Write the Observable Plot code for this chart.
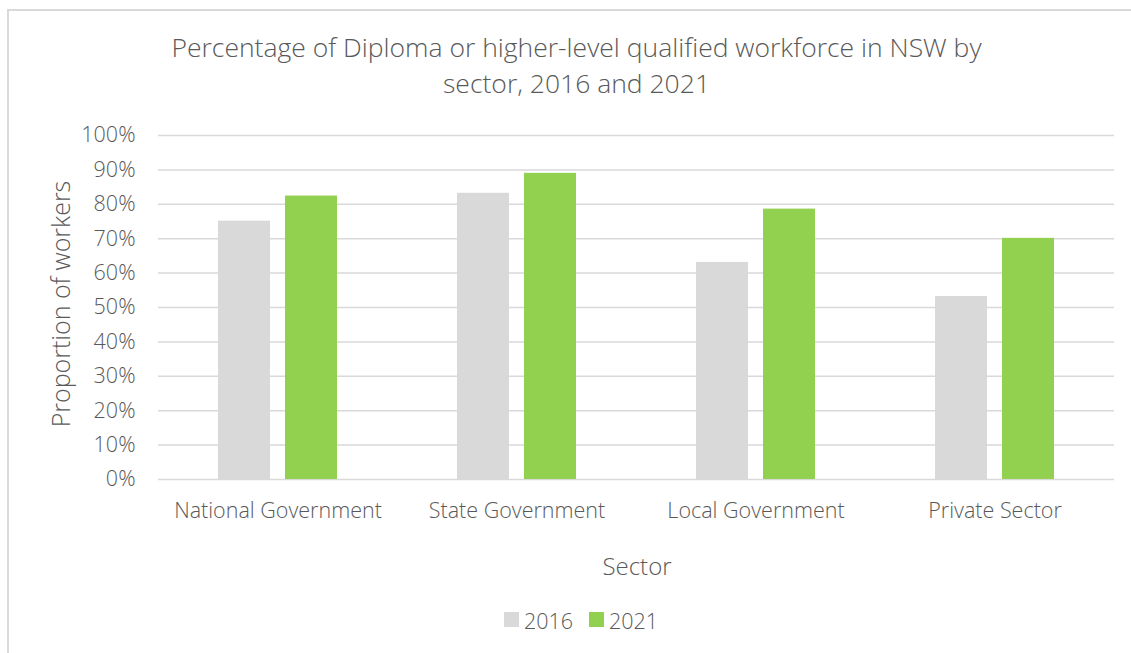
<!DOCTYPE html>
<html>
<head>
<meta charset="utf-8">
<script src="https://cdn.jsdelivr.net/npm/d3@7"></script>
<script src="https://cdn.jsdelivr.net/npm/@observablehq/plot@0.6"></script>
<style>
  html, body { margin: 0; padding: 0; background: #fff; }
  #wrap { position: relative; width: 1131px; height: 653px; overflow: hidden; font-family: "Open Sans", sans-serif; font-weight: 300; color: #595959; }
  #frame { position: absolute; left: 7px; top: 9px; width: 1200px; height: 700px; border: 2px solid #d9d9d9; box-sizing: border-box; }
  #title { position: absolute; left: 0; top: 29px; width: 1153px; text-align: center; font-size: 26.5px; line-height: 36px; }
  #ylabel { position: absolute; left: 60px; top: 304px; transform: translate(-50%, -50%) rotate(-90deg); font-size: 25px; white-space: nowrap; }
  #xlabel { position: absolute; left: 637px; top: 565px; transform: translate(-50%, -50%); font-size: 24px; white-space: nowrap; }
  .sw { position: absolute; width: 15px; height: 15px; top: 612px; }
  .lt { position: absolute; top: 620px; transform: translateY(-50%); font-size: 21.5px; white-space: nowrap; }
  #chart { position: absolute; left: 0; top: 0; }
</style>
</head>
<body>
<div id="wrap">
  <div id="frame"></div>
  <div id="chart"></div>
  <div id="title">Percentage of Diploma or higher-level qualified workforce in NSW by<br>sector, 2016 and 2021</div>
  <div id="ylabel">Proportion of workers</div>
  <div id="xlabel">Sector</div>
  <div id="legend"></div>
</div>
<script>
const sectors = ["National Government", "State Government", "Local Government", "Private Sector"];
const years = ["2016", "2021"];
const values2016 = [75.1, 83.2, 63.1, 53.2];
const values2021 = [82.4, 89.0, 78.6, 70.1];
const yTicks = [0, 10, 20, 30, 40, 50, 60, 70, 80, 90, 100];
const colors = ["#d9d9d9", "#92d050"];

const data = sectors.flatMap((s, i) => [
  {sector: s, year: years[0], value: values2016[i]},
  {sector: s, year: years[1], value: values2021[i]}
]);

const chart = Plot.plot({
  width: 1131,
  height: 653,
  marginTop: 135,
  marginBottom: 174,
  marginLeft: 157,
  marginRight: 16,
  style: {fontFamily: "Open Sans, sans-serif", fontSize: "21.5px", color: "#595959", background: "transparent", fontWeight: 300},
  fx: {domain: sectors, padding: 0, label: null, axis: "bottom", tickSize: 0, tickPadding: 23},
  x: {domain: years, paddingInner: 0.22, paddingOuter: 0.875, axis: null},
  y: {domain: [0, 100], ticks: yTicks, tickFormat: d => d + "%", tickSize: 0, tickPadding: 23, label: null},
  color: {domain: years, range: colors},
  marks: [
    Plot.gridY(yTicks, {stroke: "#d9d9d9", strokeOpacity: 1, strokeWidth: 1.5}),
    Plot.barY(data, {fx: "sector", x: "year", y: "value", fill: "year"})
  ]
});
document.getElementById("chart").appendChild(chart);

const legend = document.getElementById("legend");
const swLeft = [504, 589];
const txLeft = [524, 609];
years.forEach((y, i) => {
  const sw = document.createElement("div");
  sw.className = "sw";
  sw.style.left = swLeft[i] + "px";
  sw.style.background = colors[i];
  legend.appendChild(sw);
  const t = document.createElement("div");
  t.className = "lt";
  t.style.left = txLeft[i] + "px";
  t.textContent = y;
  legend.appendChild(t);
});
</script>
</body>
</html>
